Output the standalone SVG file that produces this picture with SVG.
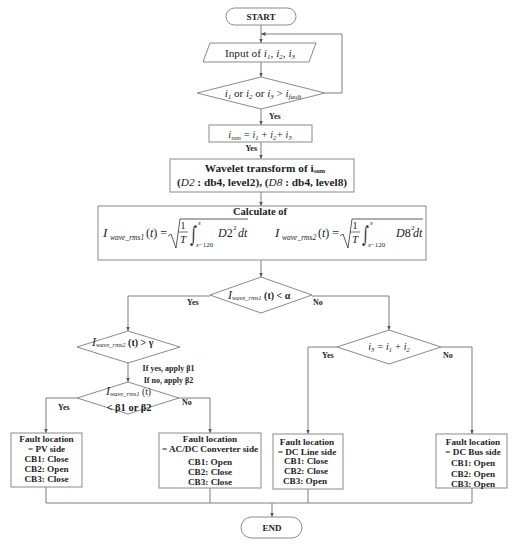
<svg xmlns="http://www.w3.org/2000/svg" width="521" height="550" viewBox="0 0 521 550">
<defs>
<marker id="arr" markerUnits="userSpaceOnUse" markerWidth="5" markerHeight="4" refX="4.5" refY="2" orient="auto">
<path d="M0,0 L4.5,2 L0,4 z" fill="#555"/>
</marker>
<style>
.bx{fill:#fff;stroke:#8a8a8a;stroke-width:1}
.ln{fill:none;stroke:#7f7f7f;stroke-width:1}
.t{font-family:"Liberation Serif","DejaVu Serif",serif;fill:#1e1e1e}
.b{font-weight:bold}
.i{font-style:italic}
.c{text-anchor:middle}
.yn{font-family:"Liberation Serif","DejaVu Serif",serif;font-weight:bold;font-size:8px;fill:#1e1e1e}
.bt{font-family:"Liberation Serif","DejaVu Serif",serif;font-weight:bold;font-size:9.2px;fill:#1e1e1e;text-anchor:middle}
.ig{font-family:"DejaVu Serif","Liberation Serif",serif;fill:#1e1e1e}
</style>
</defs>
<rect width="521" height="550" fill="#fff"/>

<g id="connectors">
<path class="ln" d="M261,25 V43" marker-end="url(#arr)"/>
<path class="ln" d="M261,62 V77" marker-end="url(#arr)"/>
<path class="ln" d="M325,93 H342 V34 H261" marker-end="url(#arr)"/>
<path class="ln" d="M261,109 V125" marker-end="url(#arr)"/>
<path class="ln" d="M261,142 V159" marker-end="url(#arr)"/>
<path class="ln" d="M261,192 V206" marker-end="url(#arr)"/>
<path class="ln" d="M261,260 V277" marker-end="url(#arr)"/>
<path class="ln" d="M210,296 H128 V331" marker-end="url(#arr)"/>
<path class="ln" d="M312,296 H389 V330" marker-end="url(#arr)"/>
<path class="ln" d="M128,363 V382" marker-end="url(#arr)"/>
<path class="ln" d="M77,398 H46 V433" marker-end="url(#arr)"/>
<path class="ln" d="M179,398 H210 V433" marker-end="url(#arr)"/>
<path class="ln" d="M337,347 H308 V434" marker-end="url(#arr)"/>
<path class="ln" d="M441,347 H472 V434" marker-end="url(#arr)"/>
<path class="ln" d="M46,487 V503 H472 V488 M210,488 V503 M308,489 V503"/>
<path class="ln" d="M272,503 V517" marker-end="url(#arr)"/>
<text class="yn" x="269" y="119">Yes</text>
<text class="yn" x="257" y="151" text-anchor="end">Yes</text>
<text class="yn" x="187" y="305">Yes</text>
<text class="yn" x="313" y="305">No</text>
<text class="yn" x="58" y="410">Yes</text>
<text class="yn" x="182" y="405">No</text>
<text class="yn" x="322" y="358">Yes</text>
<text class="yn" x="443" y="358">No</text>
<text class="yn" x="168.5" y="371" text-anchor="middle" font-size="8.5">If yes, apply β1</text>
<text class="yn" x="168.5" y="383" text-anchor="middle" font-size="8.5">If no, apply β2</text>
</g>

<g id="start">
<rect class="bx" x="226" y="8" width="70" height="17" rx="8.5"/>
<text class="t b c" x="261" y="20" font-size="9">START</text>
</g>

<g id="input">
<polygon class="bx" points="210,43 316,43 309,62 203,62"/>
<text class="t c" x="260" y="56.5" font-size="11.3">Input of <tspan class="i">i</tspan><tspan class="i" font-size="7" dy="2">1</tspan><tspan dy="-2">, </tspan><tspan class="i">i</tspan><tspan class="i" font-size="7" dy="2">2</tspan><tspan dy="-2">, </tspan><tspan class="i">i</tspan><tspan class="i" font-size="7" dy="2">3</tspan></text>
</g>

<g id="check-fault">
<polygon class="bx" points="261,77 325,93 261,109 197,93"/>
<text class="t c" x="263" y="97" font-size="11"><tspan class="i">i</tspan><tspan class="i" font-size="7" dy="2">1</tspan><tspan dy="-2"> or </tspan><tspan class="i">i</tspan><tspan class="i" font-size="7" dy="2">2</tspan><tspan dy="-2"> or  </tspan><tspan class="i">i</tspan><tspan class="i" font-size="7" dy="2">3</tspan><tspan dy="-2"> &gt; </tspan><tspan class="i">i</tspan><tspan class="i" font-size="7" dy="2">fault</tspan></text>
</g>

<g id="isum">
<rect class="bx" x="209" y="125" width="103" height="17"/>
<text class="t c i" x="260" y="138" font-size="10"><tspan>i</tspan><tspan font-size="6" dy="1.5">sum</tspan><tspan dy="-1.5"> = i</tspan><tspan font-size="6.5" dy="1.5">1</tspan><tspan dy="-1.5"> + i</tspan><tspan font-size="6.5" dy="1.5">2</tspan><tspan dy="-1.5">+ i</tspan><tspan font-size="6.5" dy="1.5">3</tspan></text>
</g>

<g id="wavelet">
<rect class="bx" x="170" y="159" width="184" height="33"/>
<text class="t b c" x="265" y="172" font-size="11.3">Wavelet transform of i<tspan font-size="6.5" dy="1">sum</tspan></text>
<text class="t b c" x="262" y="186" font-size="11.3">(<tspan class="i" font-weight="normal">D2</tspan> : db4, level2), (<tspan class="i" font-weight="normal">D8</tspan> : db4, level8)</text>
</g>

<g id="calculate">
<rect class="bx" x="98" y="206" width="328" height="54"/>
<text class="t b c" x="260" y="215" font-size="10.5">Calculate of</text>
<g id="formula1">
<text class="t i" x="103" y="237" font-size="13">I</text>
<text class="t i" x="110" y="240" font-size="7.5">wave_rms1</text>
<text class="t" x="146" y="237" font-size="12">(<tspan class="i">t</tspan>) =</text>
<path d="M168,236 L171,234 L176,248 L180,219 H248" fill="none" stroke="#333" stroke-width="0.8"/>
<text class="t c" x="183" y="229" font-size="10">1</text>
<path d="M178,232 H188" stroke="#333" stroke-width="0.7"/>
<text class="t c i" x="183" y="243" font-size="11">T</text>
<text class="ig" transform="translate(190,242) scale(1,1.7)" font-size="13">∫</text>
<text class="t i" x="198" y="225" font-size="7">s</text>
<text class="t" x="196" y="247" font-size="7"><tspan class="i">s</tspan>−120</text>
<text class="t i" x="218" y="237" font-size="12">D<tspan font-style="normal">2</tspan></text>
<text class="t" x="233" y="230" font-size="7">2</text>
<text class="t i" x="238" y="237" font-size="12">dt</text>
</g>
<g id="formula2">
<text class="t i" x="275" y="237" font-size="13">I</text>
<text class="t i" x="282" y="240" font-size="7.5">wave_rms2</text>
<text class="t" x="318" y="237" font-size="12">(<tspan class="i">t</tspan>) =</text>
<path d="M340,236 L343,234 L348,248 L352,219 H423" fill="none" stroke="#333" stroke-width="0.8"/>
<text class="t c" x="355" y="229" font-size="10">1</text>
<path d="M350,232 H360" stroke="#333" stroke-width="0.7"/>
<text class="t c i" x="355" y="243" font-size="11">T</text>
<text class="ig" transform="translate(362,242) scale(1,1.7)" font-size="13">∫</text>
<text class="t i" x="370" y="225" font-size="7">s</text>
<text class="t" x="368" y="247" font-size="7"><tspan class="i">s</tspan>−120</text>
<text class="t i" x="396" y="237" font-size="12">D<tspan font-style="normal">8</tspan></text>
<text class="t" x="411" y="230" font-size="7">2</text>
<text class="t i" x="413" y="237" font-size="12">dt</text>
</g>
</g>

<g id="check-rms1">
<polygon class="bx" points="261,277 312,295 261,313 210,295"/>
<text class="t" x="228" y="299" font-size="12"><tspan class="i">I</tspan><tspan class="i" font-size="6.5" dy="1">wave_rms1</tspan><tspan class="b" font-size="10" dy="-1"> (t) &lt; α</tspan></text>
</g>

<g id="check-rms2">
<polygon class="bx" points="128,331 180,347 128,363 77,347"/>
<text class="t" x="92" y="346" font-size="12"><tspan class="i">I</tspan><tspan class="i" font-size="6.5" dy="1">wave_rms2</tspan><tspan class="b" font-size="10" dy="-1"> (t) &gt; γ</tspan></text>
</g>

<g id="check-beta">
<polygon class="bx" points="128,382 179,398 128,414 77,398"/>
<text class="t" x="106" y="395" font-size="12"><tspan class="i">I</tspan><tspan class="i" font-size="6.5" dy="1">wave_rms1</tspan><tspan font-size="9.5" dy="-1"> (t)</tspan></text>
<text class="t b c" x="129" y="411" font-size="10.5">&lt; β1 or β2</text>
</g>

<g id="check-i3">
<polygon class="bx" points="389,330 441,347 389,364 337,347"/>
<text class="t c i" x="389" y="350" font-size="10">i<tspan font-size="6.5" dy="1.5">3</tspan><tspan dy="-1.5"> = i</tspan><tspan font-size="6.5" dy="1.5">1</tspan><tspan dy="-1.5"> + i</tspan><tspan font-size="6.5" dy="1.5">2</tspan></text>
</g>

<g id="pv-side">
<rect class="bx" x="11" y="433" width="71" height="54"/>
<text class="bt" x="46.5" y="442">Fault location</text>
<text class="bt" x="46.5" y="452">= PV side</text>
<text class="bt" x="46.5" y="461.5">CB1: Close</text>
<text class="bt" x="46.5" y="471.5">CB2: Open</text>
<text class="bt" x="46.5" y="482">CB3: Close</text>
</g>

<g id="acdc-side">
<rect class="bx" x="159" y="433" width="102" height="55"/>
<text class="bt" x="210" y="441.5">Fault location</text>
<text class="bt" x="210" y="452">= AC/DC Converter side</text>
<text class="bt" x="210" y="465">CB1: Open</text>
<text class="bt" x="210" y="475">CB2: Close</text>
<text class="bt" x="210" y="485">CB3: Close</text>
</g>

<g id="dcline-side">
<rect class="bx" x="273" y="434" width="70" height="55"/>
<text class="bt" x="307" y="445">Fault location</text>
<text class="bt" x="307" y="455">= DC Line side</text>
<text class="bt" x="306" y="464">CB1: Close</text>
<text class="bt" x="306" y="474">CB2: Close</text>
<text class="bt" x="305" y="484">CB3: Open</text>
</g>

<g id="dcbus-side">
<rect class="bx" x="436" y="434" width="71" height="54"/>
<text class="bt" x="473" y="445">Fault location</text>
<text class="bt" x="473" y="455">= DC Bus side</text>
<text class="bt" x="473" y="466">CB1: Open</text>
<text class="bt" x="473" y="476.5">CB2: Open</text>
<text class="bt" x="473" y="486.5">CB3: Open</text>
</g>

<g id="end">
<rect class="bx" x="241" y="517" width="61" height="21" rx="10.5"/>
<text class="t b c" x="272" y="531" font-size="9">END</text>
</g>
</svg>
